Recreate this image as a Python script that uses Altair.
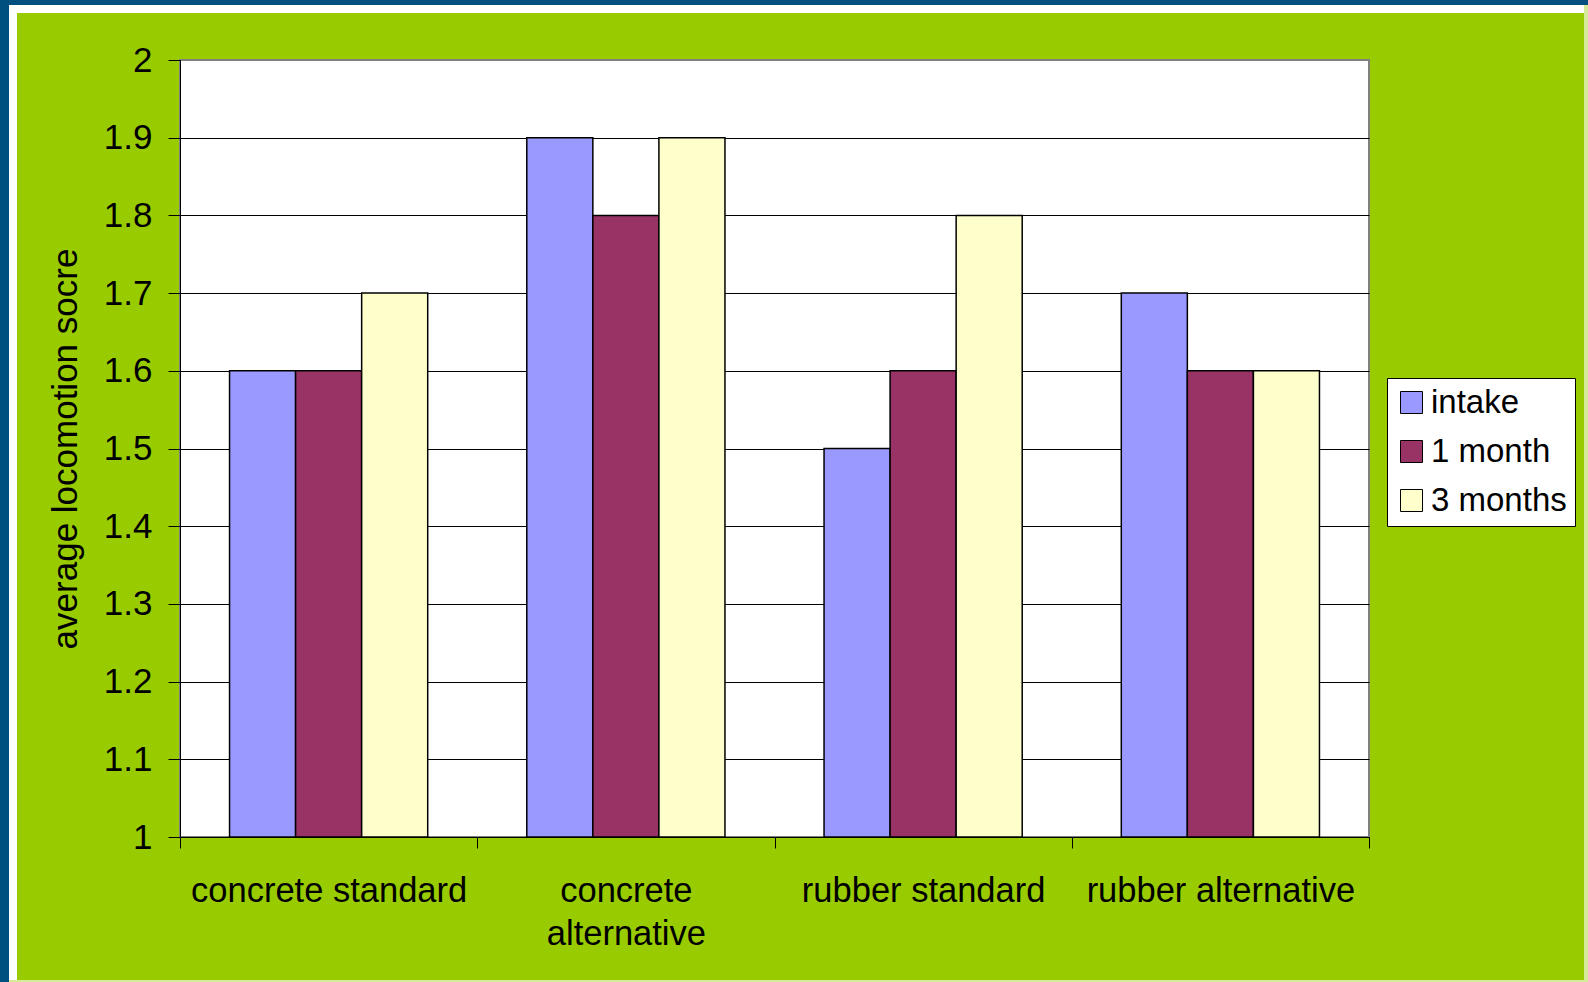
import altair as alt
import pandas as pd

categories = ["concrete standard", "concrete alternative", "rubber standard", "rubber alternative"]
series = ["intake", "1 month", "3 months"]
intake = [1.6, 1.9, 1.5, 1.7]
one_month = [1.6, 1.8, 1.6, 1.6]
three_months = [1.7, 1.9, 1.8, 1.6]
y_ticks = [1.0, 1.1, 1.2, 1.3, 1.4, 1.5, 1.6, 1.7, 1.8, 1.9, 2.0]
colors = ["#9999FF", "#993366", "#FFFFCC"]

rows = []
for i, c in enumerate(categories):
    for s, vals in zip(series, [intake, one_month, three_months]):
        rows.append({"category": c, "series": s, "value": vals[i], "base": y_ticks[0]})
df = pd.DataFrame(rows)

FONT = "Liberation Sans"
W, H = 1189, 777
PL, PT = 180, 60
TOTAL_W, TOTAL_H = 1588, 982


def frame_rect(x0, x1, y0, y1, color):
    return alt.Chart(pd.DataFrame({"k": [0]})).mark_rect(color=color).encode(
        x=alt.value(x0 - PL), x2=alt.value(x1 - PL),
        y=alt.value(y0 - PT), y2=alt.value(y1 - PT),
    )


deco = [
    frame_rect(0, TOTAL_W, 0, 13, "white"),
    frame_rect(0, 17, 0, TOTAL_H, "white"),
    frame_rect(1584, TOTAL_W, 0, TOTAL_H, "#D6EB99"),
    frame_rect(0, TOTAL_W, 980, TOTAL_H, "#D6EB99"),
    frame_rect(0, 9, 0, TOTAL_H, "#00507F"),
    frame_rect(0, TOTAL_W, 0, 5, "#00507F"),
]

bars = alt.Chart(df).mark_bar(stroke="black", strokeWidth=1.5, opacity=1).encode(
    x=alt.X(
        "category:N", sort=categories, title=None,
        scale=alt.Scale(paddingInner=0, paddingOuter=0),
        axis=alt.Axis(
            tickBand="extent", tickSize=11, tickColor="black", tickWidth=1,
            domainColor="black", domainWidth=1, labelAngle=0,
            labelFontSize=34.5, labelFont=FONT, labelColor="black",
            labelPadding=26, labelLimit=400, labelOverlap=False,
            labelLineHeight=43,
            labelExpr="datum.label == 'concrete alternative' ? ['concrete', 'alternative'] : datum.label",
        ),
    ),
    xOffset=alt.XOffset("series:N", sort=series,
                        scale=alt.Scale(paddingInner=0, paddingOuter=0.75)),
    y=alt.Y(
        "value:Q",
        scale=alt.Scale(domain=[y_ticks[0], y_ticks[-1]], zero=False, nice=False),
        axis=alt.Axis(
            values=y_ticks, format="~g", title="average locomotion socre",
            tickSize=12, tickColor="black", tickWidth=1,
            domainColor="black", domainWidth=1,
            labelFontSize=35, labelFont=FONT, labelColor="black", labelPadding=16,
            titleFontSize=35, titleFont=FONT, titleFontWeight="normal",
            titleColor="black", titlePadding=20,
            gridColor={"condition": {"test": "datum.value >= 1.999", "value": "#808080"},
                       "value": "black"},
            gridWidth=1,
        ),
    ),
    y2="base:Q",
    color=alt.Color(
        "series:N", sort=series, title=None,
        scale=alt.Scale(domain=series, range=colors),
        legend=alt.Legend(
            orient="none", legendX=1387 - PL, legendY=378 - PT,
            fillColor="white", strokeColor="black",
            padding=8, rowPadding=15,
            symbolType="square", symbolSize=484, symbolStrokeColor="black",
            symbolStrokeWidth=1, symbolOpacity=1,
            labelFontSize=33, labelFont=FONT, labelColor="black", labelOffset=3,
            labelLimit=300,
        ),
    ),
)

chart = alt.layer(*deco, bars).properties(
    width=W, height=H,
    padding={"left": PL, "top": PT, "right": TOTAL_W - PL - W, "bottom": TOTAL_H - PT - H},
    autosize=alt.AutoSizeParams(type="none"),
    background="#99CC00",
    view=alt.ViewBackground(fill="white", stroke="#808080", strokeWidth=2),
).configure_legend(strokeWidth=1.5).configure(font=FONT)

chart.save("out.html", embed_options={"renderer": "svg", "actions": False})
